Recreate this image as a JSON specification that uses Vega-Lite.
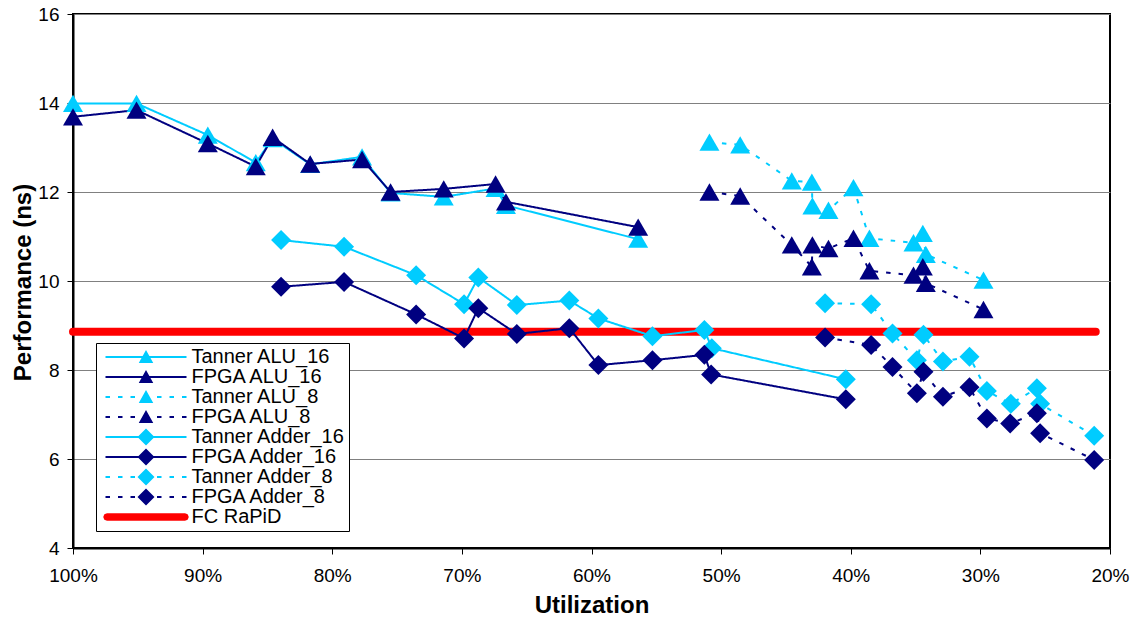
{
  "$schema": "https://vega.github.io/schema/vega-lite/v6.json",
  "width": 1037,
  "height": 534,
  "autosize": "none",
  "padding": {"left": 73, "top": 14, "right": 24, "bottom": 70},
  "background": "white",
  "config": {
    "font": "Liberation Sans",
    "view": {"stroke": "black", "strokeWidth": 2}
  },
  "datasets": {
    "perf": [
      {"s": "Tanner ALU_16", "u": 100, "p": 13.99},
      {"s": "Tanner ALU_16", "u": 95.1, "p": 13.99},
      {"s": "Tanner ALU_16", "u": 89.6, "p": 13.28},
      {"s": "Tanner ALU_16", "u": 85.9, "p": 12.66},
      {"s": "Tanner ALU_16", "u": 84.6, "p": 13.2},
      {"s": "Tanner ALU_16", "u": 81.7, "p": 12.62},
      {"s": "Tanner ALU_16", "u": 77.7, "p": 12.79},
      {"s": "Tanner ALU_16", "u": 75.5, "p": 11.98},
      {"s": "Tanner ALU_16", "u": 71.4, "p": 11.89},
      {"s": "Tanner ALU_16", "u": 67.4, "p": 12.08},
      {"s": "Tanner ALU_16", "u": 66.6, "p": 11.7},
      {"s": "Tanner ALU_16", "u": 56.4, "p": 10.94},
      {"s": "FPGA ALU_16", "u": 100, "p": 13.69},
      {"s": "FPGA ALU_16", "u": 95.1, "p": 13.84},
      {"s": "FPGA ALU_16", "u": 89.6, "p": 13.09},
      {"s": "FPGA ALU_16", "u": 85.9, "p": 12.57},
      {"s": "FPGA ALU_16", "u": 84.6, "p": 13.23},
      {"s": "FPGA ALU_16", "u": 81.7, "p": 12.63},
      {"s": "FPGA ALU_16", "u": 77.7, "p": 12.73},
      {"s": "FPGA ALU_16", "u": 75.5, "p": 12.0},
      {"s": "FPGA ALU_16", "u": 71.4, "p": 12.07},
      {"s": "FPGA ALU_16", "u": 67.4, "p": 12.18},
      {"s": "FPGA ALU_16", "u": 66.6, "p": 11.78},
      {"s": "FPGA ALU_16", "u": 56.4, "p": 11.21},
      {"s": "Tanner ALU_8", "u": 50.9, "p": 13.12},
      {"s": "Tanner ALU_8", "u": 48.53, "p": 13.06},
      {"s": "Tanner ALU_8", "u": 44.55, "p": 12.25},
      {"s": "Tanner ALU_8", "u": 43.0, "p": 12.22},
      {"s": "Tanner ALU_8", "u": 42.96, "p": 11.69},
      {"s": "Tanner ALU_8", "u": 41.72, "p": 11.59},
      {"s": "Tanner ALU_8", "u": 39.79, "p": 12.1},
      {"s": "Tanner ALU_8", "u": 38.56, "p": 10.96},
      {"s": "Tanner ALU_8", "u": 35.16, "p": 10.86},
      {"s": "Tanner ALU_8", "u": 34.44, "p": 11.07},
      {"s": "Tanner ALU_8", "u": 34.21, "p": 10.6},
      {"s": "Tanner ALU_8", "u": 29.76, "p": 10.02},
      {"s": "FPGA ALU_8", "u": 50.9, "p": 12.0},
      {"s": "FPGA ALU_8", "u": 48.53, "p": 11.91},
      {"s": "FPGA ALU_8", "u": 44.55, "p": 10.81},
      {"s": "FPGA ALU_8", "u": 43.0, "p": 10.32},
      {"s": "FPGA ALU_8", "u": 42.96, "p": 10.81},
      {"s": "FPGA ALU_8", "u": 41.72, "p": 10.73},
      {"s": "FPGA ALU_8", "u": 39.79, "p": 10.96},
      {"s": "FPGA ALU_8", "u": 38.56, "p": 10.23},
      {"s": "FPGA ALU_8", "u": 35.16, "p": 10.13},
      {"s": "FPGA ALU_8", "u": 34.44, "p": 10.32},
      {"s": "FPGA ALU_8", "u": 34.21, "p": 9.95},
      {"s": "FPGA ALU_8", "u": 29.76, "p": 9.36},
      {"s": "Tanner Adder_16", "u": 83.95, "p": 10.92},
      {"s": "Tanner Adder_16", "u": 79.09, "p": 10.77},
      {"s": "Tanner Adder_16", "u": 73.53, "p": 10.13},
      {"s": "Tanner Adder_16", "u": 69.83, "p": 9.48},
      {"s": "Tanner Adder_16", "u": 68.73, "p": 10.08},
      {"s": "Tanner Adder_16", "u": 65.76, "p": 9.46},
      {"s": "Tanner Adder_16", "u": 61.71, "p": 9.56},
      {"s": "Tanner Adder_16", "u": 59.47, "p": 9.16},
      {"s": "Tanner Adder_16", "u": 55.3, "p": 8.76},
      {"s": "Tanner Adder_16", "u": 51.29, "p": 8.9},
      {"s": "Tanner Adder_16", "u": 50.72, "p": 8.49},
      {"s": "Tanner Adder_16", "u": 40.38, "p": 7.79},
      {"s": "FPGA Adder_16", "u": 83.95, "p": 9.87},
      {"s": "FPGA Adder_16", "u": 79.09, "p": 9.98},
      {"s": "FPGA Adder_16", "u": 73.53, "p": 9.25},
      {"s": "FPGA Adder_16", "u": 69.83, "p": 8.71},
      {"s": "FPGA Adder_16", "u": 68.73, "p": 9.39},
      {"s": "FPGA Adder_16", "u": 65.76, "p": 8.81},
      {"s": "FPGA Adder_16", "u": 61.71, "p": 8.94},
      {"s": "FPGA Adder_16", "u": 59.47, "p": 8.11},
      {"s": "FPGA Adder_16", "u": 55.3, "p": 8.22},
      {"s": "FPGA Adder_16", "u": 51.29, "p": 8.34},
      {"s": "FPGA Adder_16", "u": 50.77, "p": 7.9},
      {"s": "FPGA Adder_16", "u": 40.38, "p": 7.34},
      {"s": "Tanner Adder_8", "u": 41.98, "p": 9.5},
      {"s": "Tanner Adder_8", "u": 38.43, "p": 9.48},
      {"s": "Tanner Adder_8", "u": 36.78, "p": 8.82},
      {"s": "Tanner Adder_8", "u": 34.9, "p": 8.22},
      {"s": "Tanner Adder_8", "u": 34.39, "p": 8.79},
      {"s": "Tanner Adder_8", "u": 32.89, "p": 8.19},
      {"s": "Tanner Adder_8", "u": 30.84, "p": 8.3},
      {"s": "Tanner Adder_8", "u": 29.5, "p": 7.53},
      {"s": "Tanner Adder_8", "u": 27.65, "p": 7.24},
      {"s": "Tanner Adder_8", "u": 25.64, "p": 7.59},
      {"s": "Tanner Adder_8", "u": 25.39, "p": 7.24},
      {"s": "Tanner Adder_8", "u": 21.22, "p": 6.52},
      {"s": "FPGA Adder_8", "u": 41.98, "p": 8.73},
      {"s": "FPGA Adder_8", "u": 38.43, "p": 8.56},
      {"s": "FPGA Adder_8", "u": 36.78, "p": 8.07},
      {"s": "FPGA Adder_8", "u": 34.9, "p": 7.48},
      {"s": "FPGA Adder_8", "u": 34.39, "p": 7.96},
      {"s": "FPGA Adder_8", "u": 32.89, "p": 7.4},
      {"s": "FPGA Adder_8", "u": 30.84, "p": 7.61},
      {"s": "FPGA Adder_8", "u": 29.5, "p": 6.91},
      {"s": "FPGA Adder_8", "u": 27.7, "p": 6.8},
      {"s": "FPGA Adder_8", "u": 25.64, "p": 7.03},
      {"s": "FPGA Adder_8", "u": 25.39, "p": 6.58},
      {"s": "FPGA Adder_8", "u": 21.22, "p": 5.98},
      {"s": "FC RaPiD", "u": 100, "p": 8.86},
      {"s": "FC RaPiD", "u": 21.1, "p": 8.86}
    ],
    "legendRows": [
      {"s": "Tanner ALU_16"}, {"s": "FPGA ALU_16"}, {"s": "Tanner ALU_8"}, {"s": "FPGA ALU_8"},
      {"s": "Tanner Adder_16"}, {"s": "FPGA Adder_16"}, {"s": "Tanner Adder_8"}, {"s": "FPGA Adder_8"}, {"s": "FC RaPiD"}
    ]
  },
  "encoding": {
    "x": {
      "field": "u", "type": "quantitative",
      "scale": {"domain": [20, 100], "reverse": true, "nice": false, "zero": false},
      "axis": {
        "values": [20, 30, 40, 50, 60, 70, 80, 90, 100],
        "labelExpr": "datum.value + '%'",
        "title": "Utilization",
        "grid": false,
        "domainColor": "black", "domainWidth": 2,
        "tickColor": "black", "tickSize": 6, "tickWidth": 1,
        "labelFont": "Liberation Sans", "labelFontSize": 19, "labelColor": "black",
        "labelPadding": 12, "labelFlush": false, "labelOverlap": false, "labelBound": false,
        "titleFont": "Liberation Sans", "titleFontSize": 24, "titleFontWeight": "bold", "titleColor": "black",
        "titleBaseline": "alphabetic", "titleY": 64
      }
    },
    "y": {
      "field": "p", "type": "quantitative",
      "scale": {"domain": [4, 16], "nice": false, "zero": false},
      "axis": {
        "values": [4, 6, 8, 10, 12, 14, 16],
        "title": "Performance (ns)",
        "grid": true, "gridColor": "#808080", "gridWidth": 1,
        "domainColor": "black", "domainWidth": 2,
        "tickColor": "black", "tickSize": 6, "tickWidth": 1,
        "labelFont": "Liberation Sans", "labelFontSize": 19, "labelColor": "black",
        "labelPadding": 8,
        "titleFont": "Liberation Sans", "titleFontSize": 24, "titleFontWeight": "bold", "titleColor": "black",
        "titleAngle": 270, "titleAlign": "center", "titleBaseline": "alphabetic",
        "titleX": -43, "titleY": 268
      }
    }
  },
  "layer": [
    {
      "data": {"name": "legendRows"},
      "mark": {"type": "point", "filled": true},
      "encoding": {
        "color": {"field": "s", "type": "nominal",
          "scale": {
            "domain": ["Tanner ALU_16", "FPGA ALU_16", "Tanner ALU_8", "FPGA ALU_8", "Tanner Adder_16", "FPGA Adder_16", "Tanner Adder_8", "FPGA Adder_8", "FC RaPiD"],
            "range": ["#00CCFF", "#000080", "#00CCFF", "#000080", "#00CCFF", "#000080", "#00CCFF", "#000080", "#FF0000"]
          },
          "legend": {
            "title": null, "orient": "none", "legendX": 23, "legendY": 329,
            "padding": 4, "fillColor": "white", "strokeColor": "black", "cornerRadius": 0,
            "symbolSize": 100, "symbolStrokeWidth": 0, "symbolOpacity": 1,
            "symbolOffset": 36, "labelOffset": 35.5,
            "labelFont": "Liberation Sans", "labelFontSize": 20, "labelColor": "black", "labelLimit": 400,
            "rowPadding": 0
          }
        },
        "shape": {"field": "s", "type": "nominal",
          "scale": {
            "domain": ["Tanner ALU_16", "FPGA ALU_16", "Tanner ALU_8", "FPGA ALU_8", "Tanner Adder_16", "FPGA Adder_16", "Tanner Adder_8", "FPGA Adder_8", "FC RaPiD"],
            "range": [
              "M-8.1,-0.22H8.1V0.22H-8.1Z M0,-1.4L1.45,1.2L-1.45,1.2Z",
              "M-8.1,-0.22H8.1V0.22H-8.1Z M0,-1.4L1.45,1.2L-1.45,1.2Z",
              "M-8.1,-0.22H-7.2V0.22H-8.1Z M-5.6,-0.22H-4.7V0.22H-5.6Z M-3.1,-0.22H-2.2V0.22H-3.1Z M2.2,-0.22H3.1V0.22H2.2Z M4.7,-0.22H5.6V0.22H4.7Z M7.2,-0.22H8.1V0.22H7.2Z M0,-1.4L1.45,1.2L-1.45,1.2Z",
              "M-8.1,-0.22H-7.2V0.22H-8.1Z M-5.6,-0.22H-4.7V0.22H-5.6Z M-3.1,-0.22H-2.2V0.22H-3.1Z M2.2,-0.22H3.1V0.22H2.2Z M4.7,-0.22H5.6V0.22H4.7Z M7.2,-0.22H8.1V0.22H7.2Z M0,-1.4L1.45,1.2L-1.45,1.2Z",
              "M-8.1,-0.22H8.1V0.22H-8.1Z M0,-1.7L1.7,0L0,1.7L-1.7,0Z",
              "M-8.1,-0.22H8.1V0.22H-8.1Z M0,-1.7L1.7,0L0,1.7L-1.7,0Z",
              "M-8.1,-0.22H-7.2V0.22H-8.1Z M-5.6,-0.22H-4.7V0.22H-5.6Z M-3.1,-0.22H-2.2V0.22H-3.1Z M2.2,-0.22H3.1V0.22H2.2Z M4.7,-0.22H5.6V0.22H4.7Z M7.2,-0.22H8.1V0.22H7.2Z M0,-1.7L1.7,0L0,1.7L-1.7,0Z",
              "M-8.1,-0.22H-7.2V0.22H-8.1Z M-5.6,-0.22H-4.7V0.22H-5.6Z M-3.1,-0.22H-2.2V0.22H-3.1Z M2.2,-0.22H3.1V0.22H2.2Z M4.7,-0.22H5.6V0.22H4.7Z M7.2,-0.22H8.1V0.22H7.2Z M0,-1.7L1.7,0L0,1.7L-1.7,0Z",
              "M-7.8,-0.75H7.8L8.33,-0.53L8.55,0L8.33,0.53L7.8,0.75H-7.8L-8.33,0.53L-8.55,0L-8.33,-0.53Z"
            ]
          },
          "legend": {
            "title": null, "orient": "none", "legendX": 23, "legendY": 329,
            "padding": 4, "fillColor": "white", "strokeColor": "black", "cornerRadius": 0,
            "symbolSize": 100, "symbolStrokeWidth": 0, "symbolOpacity": 1,
            "symbolOffset": 36, "labelOffset": 35.5,
            "labelFont": "Liberation Sans", "labelFontSize": 20, "labelColor": "black", "labelLimit": 400,
            "rowPadding": 0
          }
        }
      }
    },
    {
      "data": {"name": "perf"},
      "transform": [{"filter": "datum.s === 'FC RaPiD'"}],
      "mark": {"type": "line", "strokeWidth": 8, "strokeCap": "round"},
      "encoding": {
        "color": {"field": "s", "type": "nominal", "legend": null}
      }
    },
    {
      "data": {"name": "perf"},
      "transform": [{"filter": "datum.s !== 'FC RaPiD'"}],
      "mark": {"type": "line", "strokeWidth": 2},
      "encoding": {
        "color": {"field": "s", "type": "nominal", "legend": null},
        "strokeDash": {"field": "s", "type": "nominal", "legend": null,
          "scale": {
            "domain": ["Tanner ALU_16", "FPGA ALU_16", "Tanner ALU_8", "FPGA ALU_8", "Tanner Adder_16", "FPGA Adder_16", "Tanner Adder_8", "FPGA Adder_8", "FC RaPiD"],
            "range": [[1, 0], [1, 0], [4.5, 8], [4.5, 8], [1, 0], [1, 0], [4.5, 8], [4.5, 8], [1, 0]]
          }
        },
        "order": {"value": null}
      }
    },
    {
      "data": {"name": "perf"},
      "transform": [{"filter": "indexof(datum.s, 'ALU') >= 0"}],
      "mark": {"type": "point", "filled": true, "shape": "triangle-up", "size": 400, "opacity": 1},
      "encoding": {
        "color": {"field": "s", "type": "nominal", "legend": null}
      }
    },
    {
      "data": {"name": "perf"},
      "transform": [{"filter": "indexof(datum.s, 'Adder') >= 0"}],
      "mark": {"type": "point", "filled": true, "shape": "diamond", "size": 400, "opacity": 1},
      "encoding": {
        "color": {"field": "s", "type": "nominal", "legend": null}
      }
    }
  ]
}
